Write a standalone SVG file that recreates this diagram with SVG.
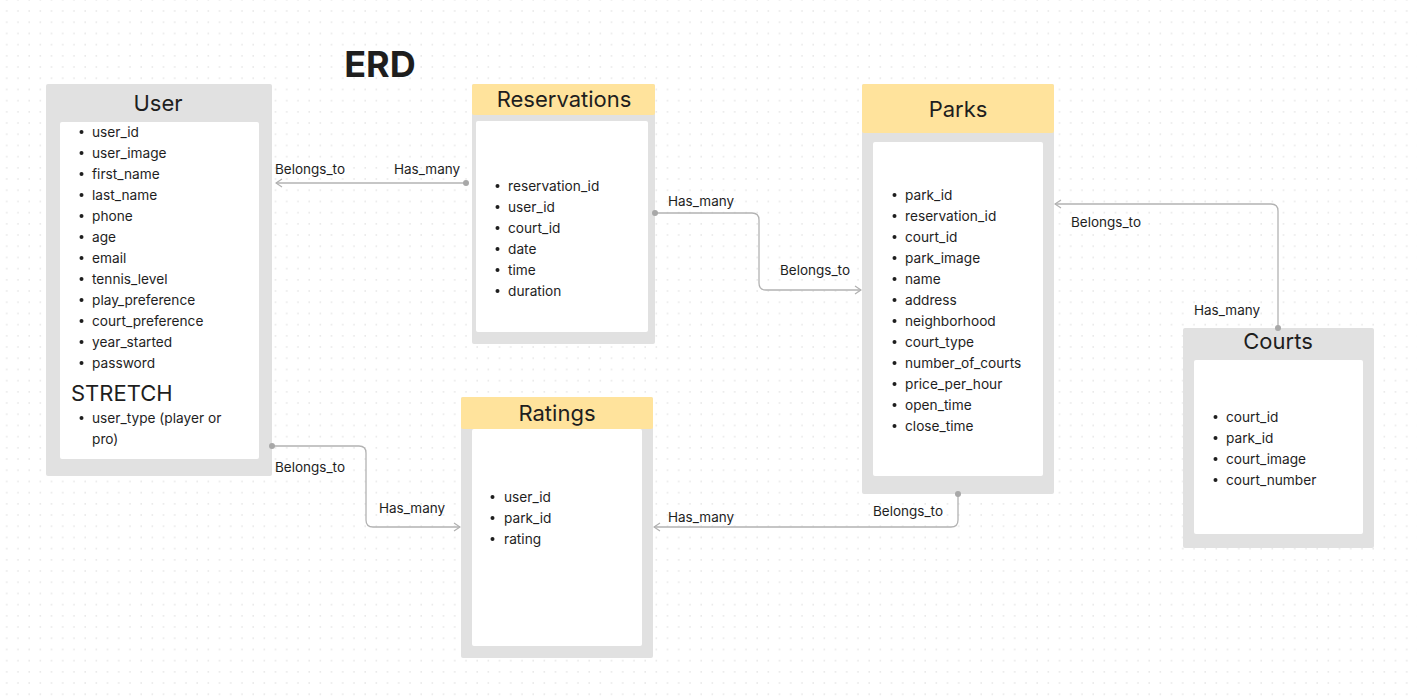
<svg xmlns="http://www.w3.org/2000/svg" width="1417" height="700" viewBox="0 0 1417 700">
<defs>
<pattern id="dots" patternUnits="userSpaceOnUse" x="1" y="5.5" width="11.2" height="11.2">
<rect x="5.2" y="5" width="1.1" height="1.1" fill="#cfcfcf"/>
</pattern>
<marker id="arr" viewBox="0 0 8 10" refX="7" refY="5" markerWidth="8" markerHeight="10" markerUnits="userSpaceOnUse" orient="auto">
<path d="M1,1 L7,5 L1,9" fill="none" stroke="#b0b0b0" stroke-width="1.2"/>
</marker>
</defs>
<style>
.outer{fill:#e1e1e1}
.head{fill:#ffe39c}
.inner{fill:#ffffff}
.title{font-family:Inter,"Liberation Sans",sans-serif;font-size:22px;fill:#1e1e1e;text-anchor:middle}
.item{font-family:Inter,"Liberation Sans",sans-serif;font-size:13.7px;fill:#1e1e1e}
.lbl{font-family:Inter,"Liberation Sans",sans-serif;font-size:13.5px;fill:#1e1e1e}
.bul{fill:#1e1e1e}
.conn{fill:none;stroke:#b3b3b3;stroke-width:1.3}
.dot{fill:#a8a8a8}
</style>
<rect width="1417" height="700" fill="#ffffff"/>
<rect width="1417" height="700" fill="url(#dots)"/>

<text x="380" y="77" font-family="Inter,'Liberation Sans',sans-serif" font-size="36" font-weight="bold" fill="#1e1e1e" text-anchor="middle">ERD</text>

<g id="user">
<rect class="outer" x="46" y="84" width="226" height="392" rx="2"/>
<rect class="inner" x="60" y="122" width="199" height="337" rx="2"/>
<text class="title" x="158" y="111">User</text>
<g class="item">
<text x="92" y="137">user_id</text>
<text x="92" y="158">user_image</text>
<text x="92" y="179">first_name</text>
<text x="92" y="200">last_name</text>
<text x="92" y="221">phone</text>
<text x="92" y="242">age</text>
<text x="92" y="263">email</text>
<text x="92" y="284">tennis_level</text>
<text x="92" y="305">play_preference</text>
<text x="92" y="326">court_preference</text>
<text x="92" y="347">year_started</text>
<text x="92" y="368">password</text>
<text x="92" y="423">user_type (player or</text>
<text x="92" y="444">pro)</text>
</g>
<text x="71" y="401" font-family="Inter,'Liberation Sans',sans-serif" font-size="22" fill="#1e1e1e">STRETCH</text>
<g class="bul">
<circle cx="81.5" cy="132" r="2"/><circle cx="81.5" cy="153" r="2"/><circle cx="81.5" cy="174" r="2"/><circle cx="81.5" cy="195" r="2"/>
<circle cx="81.5" cy="216" r="2"/><circle cx="81.5" cy="237" r="2"/><circle cx="81.5" cy="258" r="2"/><circle cx="81.5" cy="279" r="2"/>
<circle cx="81.5" cy="300" r="2"/><circle cx="81.5" cy="321" r="2"/><circle cx="81.5" cy="342" r="2"/><circle cx="81.5" cy="363" r="2"/>
<circle cx="81.5" cy="418" r="2"/>
</g>
</g>

<g id="reservations">
<rect class="outer" x="472" y="84" width="183" height="260" rx="2"/>
<rect class="head" x="472" y="84" width="183" height="31" rx="2"/>
<rect class="inner" x="476" y="121" width="172" height="211" rx="2"/>
<text class="title" x="564" y="107">Reservations</text>
<g class="item">
<text x="508" y="191">reservation_id</text>
<text x="508" y="212">user_id</text>
<text x="508" y="233">court_id</text>
<text x="508" y="254">date</text>
<text x="508" y="275">time</text>
<text x="508" y="296">duration</text>
</g>
<g class="bul">
<circle cx="497.5" cy="186" r="2"/><circle cx="497.5" cy="207" r="2"/><circle cx="497.5" cy="228" r="2"/>
<circle cx="497.5" cy="249" r="2"/><circle cx="497.5" cy="270" r="2"/><circle cx="497.5" cy="291" r="2"/>
</g>
</g>

<g id="parks">
<rect class="outer" x="862" y="84" width="192" height="410" rx="2"/>
<rect class="head" x="862" y="84" width="192" height="49" rx="2"/>
<rect class="inner" x="873" y="142" width="170" height="334" rx="2"/>
<text class="title" x="958" y="117">Parks</text>
<g class="item">
<text x="905" y="200">park_id</text>
<text x="905" y="221">reservation_id</text>
<text x="905" y="242">court_id</text>
<text x="905" y="263">park_image</text>
<text x="905" y="284">name</text>
<text x="905" y="305">address</text>
<text x="905" y="326">neighborhood</text>
<text x="905" y="347">court_type</text>
<text x="905" y="368">number_of_courts</text>
<text x="905" y="389">price_per_hour</text>
<text x="905" y="410">open_time</text>
<text x="905" y="431">close_time</text>
</g>
<g class="bul">
<circle cx="894.5" cy="195" r="2"/><circle cx="894.5" cy="216" r="2"/><circle cx="894.5" cy="237" r="2"/><circle cx="894.5" cy="258" r="2"/>
<circle cx="894.5" cy="279" r="2"/><circle cx="894.5" cy="300" r="2"/><circle cx="894.5" cy="321" r="2"/><circle cx="894.5" cy="342" r="2"/>
<circle cx="894.5" cy="363" r="2"/><circle cx="894.5" cy="384" r="2"/><circle cx="894.5" cy="405" r="2"/><circle cx="894.5" cy="426" r="2"/>
</g>
</g>

<g id="courts">
<rect class="outer" x="1183" y="328" width="191" height="220" rx="2"/>
<rect class="inner" x="1194" y="360" width="169" height="174" rx="2"/>
<text class="title" x="1278" y="349">Courts</text>
<g class="item">
<text x="1226" y="422">court_id</text>
<text x="1226" y="443">park_id</text>
<text x="1226" y="464">court_image</text>
<text x="1226" y="485">court_number</text>
</g>
<g class="bul">
<circle cx="1215.5" cy="417" r="2"/><circle cx="1215.5" cy="438" r="2"/><circle cx="1215.5" cy="459" r="2"/><circle cx="1215.5" cy="480" r="2"/>
</g>
</g>

<g id="ratings">
<rect class="outer" x="461" y="397" width="192" height="261" rx="2"/>
<rect class="head" x="461" y="397" width="192" height="32" rx="2"/>
<rect class="inner" x="472" y="429" width="170" height="217" rx="2"/>
<text class="title" x="557" y="421">Ratings</text>
<g class="item">
<text x="504" y="502">user_id</text>
<text x="504" y="523">park_id</text>
<text x="504" y="544">rating</text>
</g>
<g class="bul">
<circle cx="492.5" cy="497" r="2"/><circle cx="492.5" cy="518" r="2"/><circle cx="492.5" cy="539" r="2"/>
</g>
</g>

<g id="connectors">
<path class="conn" d="M466,183 L276,183" marker-end="url(#arr)"/>
<circle class="dot" cx="466" cy="183" r="3"/>
<text class="lbl" x="275" y="174">Belongs_to</text>
<text class="lbl" x="394" y="174">Has_many</text>

<path class="conn" d="M655,213 L752,213 Q759,213 759,220 L759,283 Q759,290 766,290 L861,290" marker-end="url(#arr)"/>
<circle class="dot" cx="655" cy="213" r="3"/>
<text class="lbl" x="668" y="206">Has_many</text>
<text class="lbl" x="780" y="275">Belongs_to</text>

<path class="conn" d="M1278,328 L1278,211 Q1278,204 1271,204 L1055,204" marker-end="url(#arr)"/>
<circle class="dot" cx="1278" cy="328" r="3"/>
<text class="lbl" x="1071" y="227">Belongs_to</text>
<text class="lbl" x="1194" y="315">Has_many</text>

<path class="conn" d="M272,446 L359,446 Q366,446 366,453 L366,520 Q366,527 373,527 L460,527" marker-end="url(#arr)"/>
<circle class="dot" cx="272" cy="446" r="3"/>
<text class="lbl" x="275" y="472">Belongs_to</text>
<text class="lbl" x="379" y="513">Has_many</text>

<path class="conn" d="M958,494 L958,520 Q958,527 951,527 L654,527" marker-end="url(#arr)"/>
<circle class="dot" cx="958" cy="494" r="3"/>
<text class="lbl" x="668" y="522">Has_many</text>
<text class="lbl" x="873" y="516">Belongs_to</text>
</g>
</svg>
